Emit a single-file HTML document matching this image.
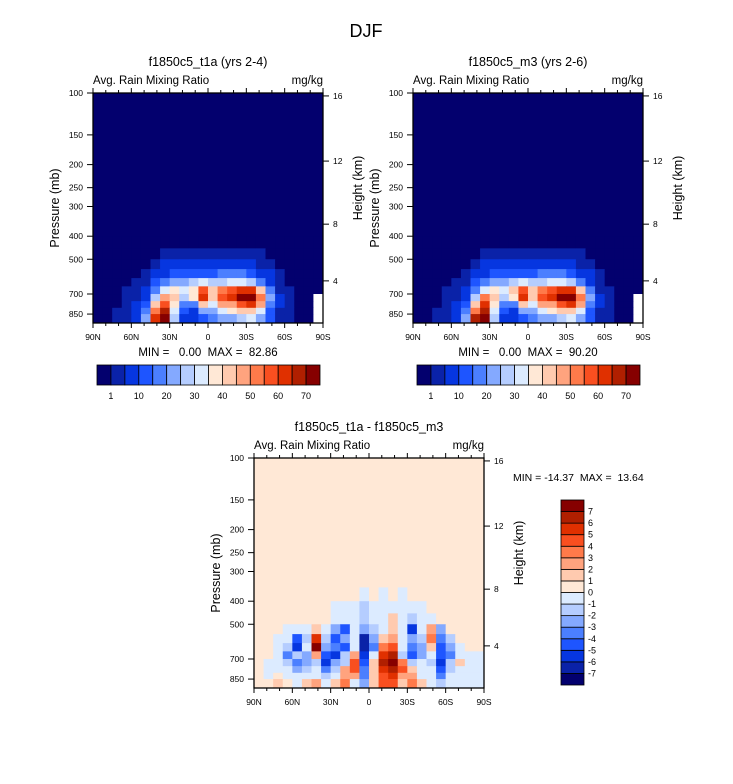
<!DOCTYPE html>
<html><head><meta charset="utf-8"><style>
body{margin:0;background:#fff;}
svg{display:block;font-family:"Liberation Sans",Arial,sans-serif;}
text{white-space:pre;}
</style></head><body>
<svg id="root" width="733" height="784" viewBox="0 0 733 784" xmlns="http://www.w3.org/2000/svg">
<text x="366" y="37" font-size="18" text-anchor="middle">DJF</text>
</svg>
<script>
// ---- data ----
const latLabels = ["90N","60N","30N","0","30S","60S","90S"];
const presTicks = [100,150,200,250,300,400,500,700,850];
const heightTicks = [4,8,12,16];
const absLevels = [1,5,10,15,20,25,30,35,40,45,50,55,60,65,70];
const absLabels = ["1","10","20","30","40","50","60","70"];
const diffLevels = [-7,-6,-5,-4,-3,-2,-1,0,1,2,3,4,5,6,7];
const diffLabels = ["-7","-6","-5","-4","-3","-2","-1","0","1","2","3","4","5","6","7"];
const palette = ["#03006e","#0a22a8","#0636e0","#1e55ff","#4b7fff","#84a9ff","#b5cdff","#dcebff","#ffe8d6","#ffcaaf","#ffa37e","#ff7a4a","#f94f20","#e03000","#b01f00","#860000"];
const absEdges = [400,450,500,550,600,650,700,750,800,850,935];
const diffEdges = [350,400,450,500,550,600,650,700,750,800,850,935];
// 24 latitude columns 90N -> 90S (7.5 deg), -99 = missing
const fieldA = [
[0,0,0,0,0,0,0,0,0,0,0,0,0,0,0,0.5,0,0,0,0,0,0,0,0],
[0,0,0,0,0,0,0.5,1.5,1.5,1.5,1.5,1.5,1.5,2,2,1.5,1.5,1.5,0.5,0,0,0,0,0],
[0,0,0,0,0,0.5,2,5,6,6,6,6,6,7,8,8,6,4,2,0.5,0,0,0,0],
[0,0,0,0,0.5,2,5,9,12,12,13,14,12,15,16,16,13,9,5,2,0.5,0,0,0],
[0,0,0,0.5,1.5,4,10,18,22,22,26,32,25,28,30,32,28,18,9,3,0.5,0,0,0],
[0,0,0.5,1,3,6,18,32,36,30,38,55,40,50,55,62,62,40,16,4,1,0,0,0],
[0,0,0.5,1.5,4,9,26,48,42,28,35,62,42,55,60,72,78,52,22,5,1,0,0,-99],
[0,0,0.5,2,5,13,40,58,38,18,18,40,33,45,45,55,60,46,18,5,1,0,0,-99],
[0,0.5,1,2,6,18,52,66,33,12,8,20,20,30,35,40,40,30,14,4,1,0,0,-99],
[0,0.5,1,3,7,22,64,75,28,8,5,10,15,20,20,25,30,24,11,4,1,0,0,-99]];
const fieldB = [
[0,0,0,0,0,0,0,0,0,0,0,0,0,0,0,0.5,0,0,0,0,0,0,0,0],
[0,0,0,0,0,0,0.5,1.5,1.5,1.5,1.5,1.5,1.5,2,2,1.5,1.5,1.5,0.5,0,0,0,0,0],
[0,0,0,0,0,0.5,2,5,6,6,6,6,6,7,8,8,6,4,2,0.5,0,0,0,0],
[0,0,0,0,0.5,2,5,9,12,12,13,14,12,15,16,16,13,9,5,2,0.5,0,0,0],
[0,0,0,0.5,1.5,4,10,18,22,22,27,33,25,28,30,33,29,18,9,3,0.5,0,0,0],
[0,0,0.5,1,3,6,18,32,36,30,40,57,40,50,55,64,64,40,16,4,1,0,0,0],
[0,0,0.5,1.5,4,9,26,50,42,28,37,64,42,55,60,74,80,52,22,5,1,0,0,-99],
[0,0,0.5,2,5,13,40,60,38,18,18,42,33,45,45,55,62,46,18,5,1,0,0,-99],
[0,0.5,1,2,6,18,53,68,33,12,8,20,20,30,35,40,42,30,14,4,1,0,0,-99],
[0,0.5,1,3,7,22,66,78,28,8,5,10,15,20,20,25,30,24,11,4,1,0,0,-99]];
const fieldDiff = [
[0.5,0.5,0.5,0.5,0.5,0.5,0.5,0.5,0.5,0.5,0.5,-0.5,0.5,-0.5,0.5,-0.5,0.5,0.5,0.5,0.5,0.5,0.5,0.5,0.5],
[0.5,0.5,0.5,0.5,0.5,0.5,0.5,0.5,-0.5,-0.5,-0.5,-1.5,-0.5,-0.5,-0.5,-0.5,-0.5,-0.5,0.5,0.5,0.5,0.5,0.5,0.5],
[0.5,0.5,0.5,0.5,0.5,0.5,0.5,0.5,-0.5,-0.5,-0.5,-2,-0.5,-0.5,1.5,-0.5,-1.5,-0.5,-0.5,0.5,0.5,0.5,0.5,0.5],
[0.5,0.5,0.5,-0.5,-0.5,-0.5,1.5,-0.5,-3,-5,-1,-2.5,-1.5,-0.5,1.5,-1,-6,-1,2,-2.5,0.5,0.5,0.5,0.5],
[0.5,0.5,-0.5,-1,-5,-1.5,5,-2,-5,-3,-1,-7,-3,1,2,-0.5,-3,-2,3,-4,-1.5,0.5,0.5,0.5],
[0.5,0.5,-0.5,-2,-6,-1,7,-3,-4,-5,-1,-7,-4,3,4,-1,-4,-3,1,-5,-3,-0.5,0.5,0.5],
[0.5,0.5,-0.5,-4,-2,-3,2,-5,-6,-2,2,-6,-1,5,6,-2,-5,-3,-1,-5,-4,-1,-0.5,-0.5],
[0.5,-0.5,-0.5,-2,-4,-3,-2,-6,-3,-2,4,-5,1,6,7,3,-2,-1,-2,-6,-2,1,-0.5,-0.5],
[0.5,-0.5,-0.5,-1,-3,-2,-1,-4,-2,2,4,-4,1,5,6,4,1,-1,-1,-5,-2,-0.5,-0.5,-0.5],
[0.5,-0.5,0.5,-0.5,-1,-1,-0.5,-2,-1,2,2,-4,1,4,5,2,2,-0.5,-1,-4,-1,-0.5,-0.5,-0.5],
[0.5,0.5,1.5,0.5,-0.5,1.5,2,-0.5,1.5,3,-1,-3,1,4,4,1,3,1.5,-0.5,-2,-0.5,-0.5,-0.5,-0.5]];

// ---- drawing ----
const NS = "http://www.w3.org/2000/svg";
const root = document.getElementById('root');
const SZ = 230, K = 103.3;
function mk(tag, attrs, parent, text){const e=document.createElementNS(NS,tag);for(const k in attrs)e.setAttribute(k,attrs[k]);if(text!==undefined)e.textContent=text;(parent||root).appendChild(e);return e;}
function colorFor(v, levels){if(v===-99)return "#ffffff";let i=0;while(i<levels.length&&v>=levels[i])i++;return palette[i];}
function yOf(p, oy){return oy + Math.min(SZ, K*Math.log(p/100));}
function xOf(lat, ox){return ox + (90-lat)/180*SZ;}
function presOfHeight(km){const z=km*1000;return z<=11000?1013.25*Math.pow(1-2.25577e-5*z,5.25588):226.32*Math.exp(-(z-11000)/6341.6);}

function drawPlot(ox, oy, field, edges, levels, bgVal, title, minmax, namePrefix){
  const g = mk('g',{},root);
  
  
  const bg = mk('rect',{x:ox,y:oy,width:SZ,height:SZ,fill:colorFor(bgVal,levels)},g);
  
  
  const ncol = field[0].length;
  for(let r=0;r<field.length;r++){
    const y0=yOf(edges[r],oy), y1=yOf(edges[r+1],oy);
    for(let c=0;c<ncol;c++){
      const lat0 = 90 - c*180/ncol, lat1 = 90-(c+1)*180/ncol;
      const x0=xOf(lat0,ox), x1=xOf(lat1,ox);
      const cell = mk('rect',{x:x0.toFixed(2),y:y0.toFixed(2),width:(x1-x0+0.4).toFixed(2),height:(y1-y0+0.4).toFixed(2),fill:colorFor(field[r][c],levels)},g);
      
      
    }
  }
  const frame = mk('rect',{x:ox,y:oy,width:SZ,height:SZ,fill:'none',stroke:'#000','stroke-width':1.3},g);
  
  
  for(let lat=90;lat>=-90;lat-=10){
    const x=xOf(lat,ox), major = lat%30===0;
    mk('line',{x1:x,x2:x,y1:oy+SZ,y2:oy+SZ+(major?5:3),stroke:'#000','stroke-width':1},g);
    mk('line',{x1:x,x2:x,y1:oy,y2:oy-(major?5:3),stroke:'#000','stroke-width':1},g);
  }
  latLabels.forEach((l,i)=>{
    const t=mk('text',{x:ox+i*SZ/6,y:oy+SZ+17,'font-size':8.5,'text-anchor':'middle'},g,l);
    
    
  });
  presTicks.forEach(p=>{
    const y=yOf(p,oy);
    mk('line',{x1:ox-6,x2:ox,y1:y,y2:y,stroke:'#000','stroke-width':1},g);
    const t=mk('text',{x:ox-10,y:y+3,'font-size':8.5,'text-anchor':'end'},g,String(p));
    
    
  });
  heightTicks.forEach(h=>{
    const y=yOf(presOfHeight(h),oy);
    mk('line',{x1:ox+SZ,x2:ox+SZ+6,y1:y,y2:y,stroke:'#000','stroke-width':1},g);
    const t=mk('text',{x:ox+SZ+10,y:y+3,'font-size':8.5},g,String(h));
    
    
  });
  let t=mk('text',{x:ox+SZ/2,y:oy-27,'font-size':12.5,'text-anchor':'middle'},g,title);
  
  
  t=mk('text',{x:ox,y:oy-9,'font-size':11.5},g,'Avg. Rain Mixing Ratio');
  
  
  t=mk('text',{x:ox+SZ,y:oy-9,'font-size':11.5,'text-anchor':'end'},g,'mg/kg');
  
  
  t=mk('text',{x:0,y:0,'font-size':12.5,'text-anchor':'middle',transform:`translate(${ox-34},${oy+SZ/2}) rotate(-90)`},g,'Pressure (mb)');
  
  
  t=mk('text',{x:0,y:0,'font-size':12.5,'text-anchor':'middle',transform:`translate(${ox+SZ+39},${oy+SZ/2-20}) rotate(-90)`},g,'Height (km)');
  
  
  if(minmax){
    t=mk('text',{x:ox+SZ/2,y:oy+SZ+33,'font-size':11.5,'text-anchor':'middle'},g,minmax);
    
    
  }
}
function hColorbar(x, y, w, h, name){
  const g=mk('g',{},root);
  
  
  const bw=w/palette.length;
  palette.forEach((c,i)=>{
    const r=mk('rect',{x:x+i*bw,y:y,width:bw,height:h,fill:c,stroke:'#000','stroke-width':0.8},g);
    
    
  });
  absLabels.forEach((l,i)=>{
    const t=mk('text',{x:x+(1+2*i)*bw,y:y+h+14,'font-size':9,'text-anchor':'middle'},g,l);
    
    
  });
}
drawPlot(93,93,fieldA,absEdges,absLevels,0,'f1850c5_t1a (yrs 2-4)','MIN =   0.00  MAX =  82.86','t1a');
drawPlot(413,93,fieldB,absEdges,absLevels,0,'f1850c5_m3 (yrs 2-6)','MIN =   0.00  MAX =  90.20','m3');
hColorbar(97,365,223,20,'colorbar-t1a');
hColorbar(417,365,223,20,'colorbar-m3');
drawPlot(254,458,fieldDiff,diffEdges,diffLevels,0.5,'f1850c5_t1a - f1850c5_m3',null,'diff');
let mm=mk('text',{x:513,y:481,'font-size':10.5},root,'MIN = -14.37  MAX =  13.64');


(function(){
  const x=561,y=500,w=23,h=185,bh=h/palette.length;
  const g=mk('g',{},root);
  
  
  palette.forEach((c,i)=>{
    const r=mk('rect',{x:x,y:y+h-(i+1)*bh,width:w,height:bh,fill:c,stroke:'#000','stroke-width':0.8},g);
    
    
  });
  diffLabels.forEach((l,i)=>{
    const t=mk('text',{x:x+w+4,y:y+h-(i+1)*bh+3,'font-size':9},g,l);
    
    
  });
})();
</script>
</body></html>
